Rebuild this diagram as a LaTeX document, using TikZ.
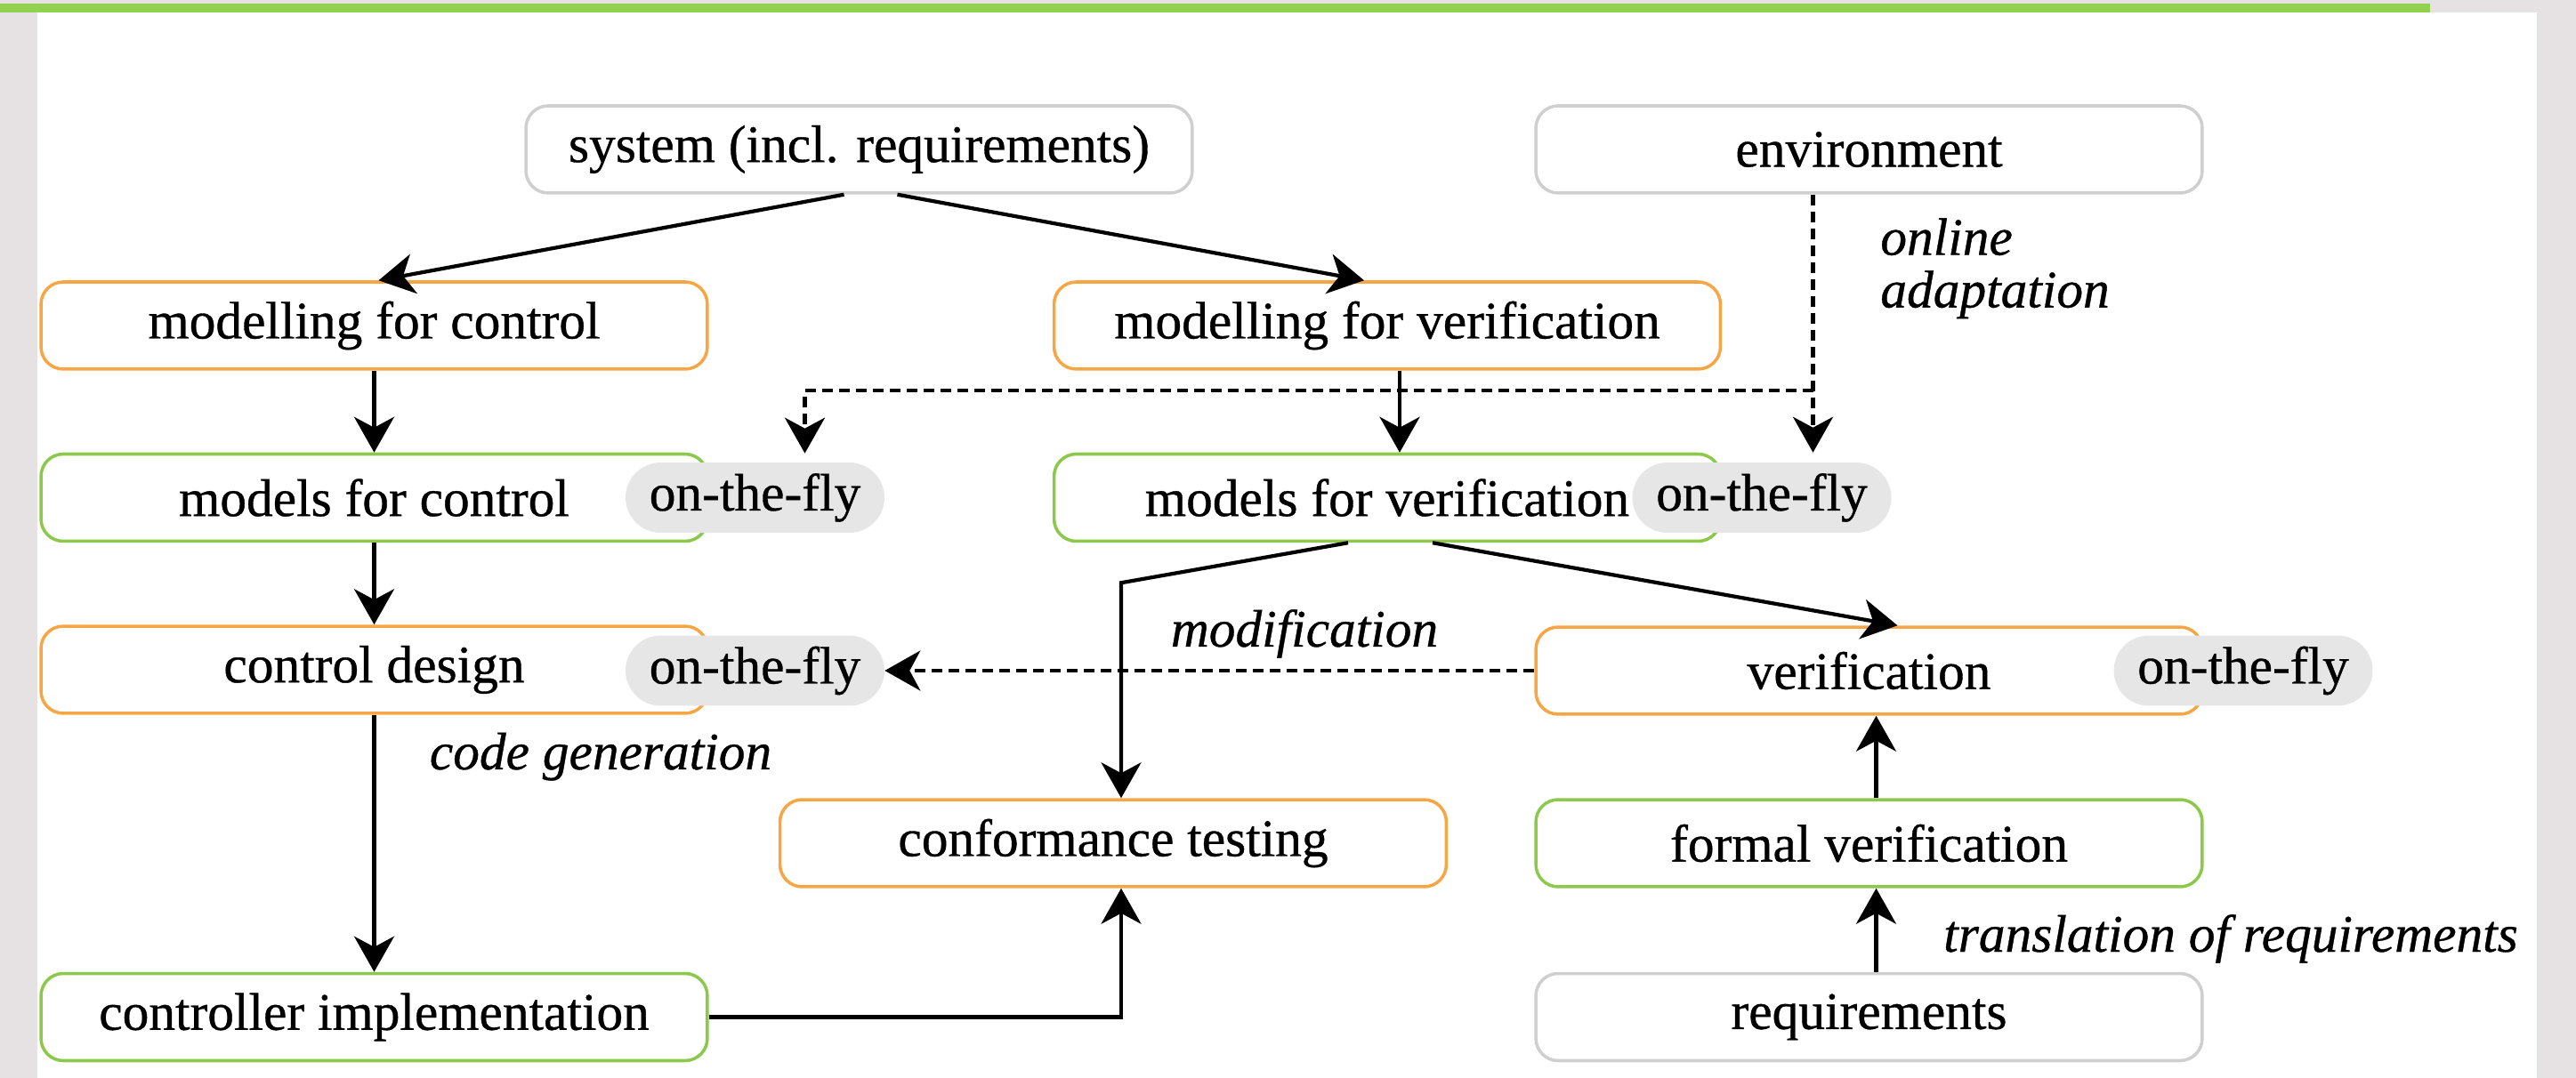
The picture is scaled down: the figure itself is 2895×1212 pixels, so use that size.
\documentclass[tikz,border=0pt]{standalone}
\usepackage{fontspec}
\setmainfont{Liberation Serif}[UprightFeatures={FakeBold=0.6},ItalicFeatures={FakeBold=0.6}]
\usetikzlibrary{arrows.meta,calc}
\definecolor{boxgreen}{HTML}{8CC84B}
\definecolor{boxorange}{HTML}{F8A645}
\definecolor{boxgray}{HTML}{CFCFCF}
\definecolor{pillgray}{HTML}{E6E6E6}
\definecolor{bggray}{HTML}{E6E1E2}
\definecolor{bargreen}{HTML}{92D050}
\begin{document}
\begin{tikzpicture}[x=0.02cm,y=-0.02cm,
  every node/.style={font=\fontsize{33.8}{33.6}\selectfont},
  box/.style={draw,line width=2pt,fill=white,rounded corners=0.5cm,minimum width=14.98cm,minimum height=1.96cm,inner sep=0pt},
  gbox/.style={box,draw=boxgreen},
  obox/.style={box,draw=boxorange},
  wbox/.style={box,draw=boxgray},
  pill/.style={fill=pillgray,rounded corners=0.79cm,minimum width=5.82cm,minimum height=1.58cm,inner sep=0pt},
  conn/.style={line width=2.4pt,-{Stealth[length=0.8cm,width=0.9cm,inset=0.24cm]}},
  dconn/.style={conn,dash pattern=on 0.24cm off 0.14cm},
  lab/.style={font=\fontsize{33.8}{33.6}\selectfont\itshape,inner sep=0pt}]
\useasboundingbox (0,0) rectangle (2895,1212);
% background
\fill[bggray] (0,0) rectangle (2895,1212);
\fill[white] (42,14) rectangle (2851,1212);
\fill[bargreen] (0,4) rectangle (2731,14);
% boxes
\node[wbox] (sys) at (965.5,168) {system (incl. requirements)};
\node[wbox] (env) at (2100.5,168) {environment};
\node[obox] (mfc) at (420.5,366) {modelling for control};
\node[obox] (mfv) at (1559,366) {modelling for verification};
\node[gbox] (mofc) at (420.5,559.5) {models for control};
\node[gbox] (mofv) at (1559,559.5) {models for verification};
\node[obox] (cd) at (420.5,753) {control design};
\node[obox] (ver) at (2100.5,754) {verification};
\node[obox] (ct) at (1251,948) {conformance testing};
\node[gbox] (fv) at (2100.5,948) {formal verification};
\node[gbox] (ci) at (420.5,1143.5) {controller implementation};
\node[wbox] (req) at (2100.5,1143.5) {requirements};
% pills
\node[pill] (p1) at (848.5,559.5) {on-the-fly};
\node[pill] (p2) at (1980,559.5) {on-the-fly};
\node[pill] (p3) at (848.5,754) {on-the-fly};
\node[pill] (p4) at (2521,754) {on-the-fly};
% connectors
\draw[conn] ($(sys.south)+(-17,0)$) -- ($(mfc.north)+(5,0)$);
\draw[conn] ($(sys.south)+(43,0)$) -- ($(mfv.north)+(-26,0)$);
\draw[conn] (mfc) -- (mofc);
\draw[conn] ($(mfv.south)+(14,0)$) -- ($(mofv.north)+(14,0)$);
\draw[conn] (mofc) -- (cd);
\draw[conn] (cd) -- (ci);
\draw[conn] (ci.east) -| ($(ct.south)+(9,0)$);
\draw[conn] ($(mofv.south)+(-44,0)$) -- ($(ct.north)+(9,-242)$) -- ($(ct.north)+(9,0)$);
\draw[conn] ($(mofv.south)+(51,0)$) -- ($(ver.north)+(32,0)$);
\draw[conn] ($(req.north)+(8,0)$) -- ($(fv.south)+(8,0)$);
\draw[conn] ($(fv.north)+(8,0)$) -- ($(ver.south)+(8,0)$);
\coordinate (eout) at ($(env.south)+(-63,0)$);
\coordinate (branch) at ($(eout)+(0,220)$);
\coordinate (dtip) at ($(p1.north)+(56,-10)$);
\draw[dconn] (eout) -- (eout |- mofv.north);
\draw[dconn] (branch) -| (dtip);
\draw[dconn] (ver.west) -- (p3.east);
% labels
\node[lab,anchor=north west,align=left] (la) at (2113,245) {online\\adaptation};
\node[lab,anchor=base] (lm) at (1466,727) {modification};
\node[lab,anchor=base] (lc) at (675,865) {code generation};
\node[lab,anchor=base] (lt) at (2507,1070) {translation of requirements};
\end{tikzpicture}
\end{document}
